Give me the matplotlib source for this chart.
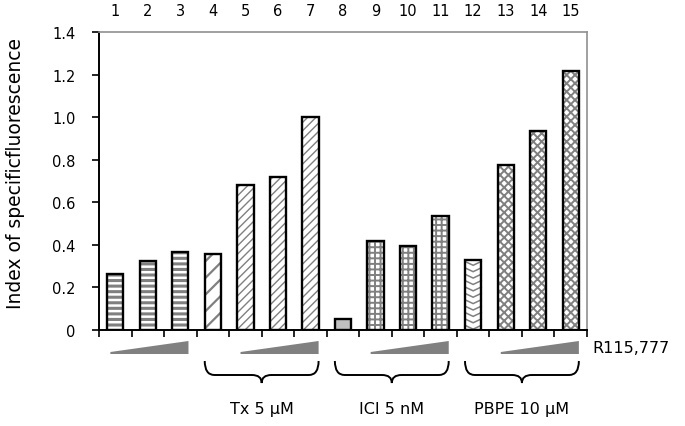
import matplotlib
matplotlib.use("Agg")
import matplotlib.pyplot as plt
from matplotlib.path import Path
from matplotlib.patches import PathPatch, Polygon
import matplotlib.transforms as mtransforms
import numpy as np

plt.rcParams['font.family'] = ['DejaVu Sans']

# ---- data ----
lane_labels = [str(i) for i in range(1, 16)]
values = [0.263, 0.324, 0.366, 0.357, 0.681, 0.719, 1.0, 0.052,
          0.418, 0.395, 0.535, 0.329, 0.775, 0.935, 1.217]
hatches = ['---', '---', '---', '//', '////', '////', '////', '',
           '+++', '+++', '+++', 'chev', 'xxxx', 'xxxx', 'xxxx']
face_colors = ['white'] * 7 + ['#c0c0c0'] + ['white'] * 7
ytick_vals = [0, 0.2, 0.4, 0.6, 0.8, 1.0, 1.2, 1.4]
ytick_labels = ['0', '0.2', '0.4', '0.6', '0.8', '1.0', '1.2', '1.4']
ramp_groups = [(1, 3), (5, 7), (9, 11), (13, 15)]
brace_groups = [(4, 7, 'Tx 5 µM'), (8, 11, 'ICI 5 nM'), (12, 15, 'PBPE 10 µM')]
ramp_label = 'R115,777'
ylabel = 'Index of specificfluorescence'

hatch_lw = {'---': 2.2, '//': 1.6, '////': 1.0, '+++': 1.4, 'xxxx': 1.4}

fig = plt.figure(figsize=(6.85, 4.27), dpi=100)
ax = fig.add_axes([99/685, 1-331/427, 488/685, 298/427])

n = len(values)
x = np.arange(n) + 0.5
bw = 0.5
hatch_col = '#808080'

for xi, v, h, fc in zip(x, values, hatches, face_colors):
    if h and h != 'chev':
        with plt.rc_context({'hatch.linewidth': hatch_lw[h]}):
            b = ax.bar(xi, v, width=bw, color=fc, hatch=h, edgecolor=hatch_col, linewidth=0, zorder=2)
            p = b.patches[0]
            if hasattr(p, 'set_hatch_linewidth'):
                p.set_hatch_linewidth(hatch_lw[h])
    else:
        ax.bar(xi, v, width=bw, color=fc, linewidth=0, zorder=2)
        if h == 'chev':
            step = 0.03
            d = 0.018
            yy = 0.004
            while yy + d < v - 0.003:
                ax.plot([xi - bw/2, xi, xi + bw/2], [yy + d, yy, yy + d],
                        color=hatch_col, lw=1.1, zorder=3, solid_joinstyle='miter')
                yy += step
    ax.bar(xi, v, width=bw, fill=False, edgecolor='black', linewidth=1.7, zorder=4)

ax.set_xlim(0, n)
ax.set_ylim(0, 1.4)
ax.set_yticks(ytick_vals)
ax.set_yticklabels(ytick_labels, fontsize=10.5)
ax.set_xticks(np.arange(n + 1))
ax.set_xticklabels([])
ax.tick_params(axis='both', direction='out', length=5, width=1.2, color='black')
ax.tick_params(axis='y', pad=12)
for s in ['left', 'bottom']:
    ax.spines[s].set_color('black')
    ax.spines[s].set_linewidth(1.4)
for s in ['top', 'right']:
    ax.spines[s].set_color('#909090')
    ax.spines[s].set_linewidth(1.2)
ax.set_ylabel(ylabel, fontsize=13.5)
ax.yaxis.set_label_coords(-0.152, 0.53)

trans = mtransforms.blended_transform_factory(ax.transData, ax.transAxes)

def ay(py):
    return (331 - py) / 298.0

for xi, lab in zip(x, lane_labels):
    ax.text(xi, ay(12), lab, transform=trans, ha='center', va='center', fontsize=10.5, clip_on=False)

# ramps
for a, b in ramp_groups:
    x0 = x[a-1] - bw/2 + 0.1
    x1 = x[b-1] + bw/2
    poly = Polygon([[x0, ay(355)], [x1, ay(355)], [x1, ay(342)], [x0, ay(353)]],
                   closed=True, transform=trans, facecolor='#808080', edgecolor='none', clip_on=False)
    ax.add_patch(poly)

ax.text(x[-1] + bw/2 + 0.4, ay(349), ramp_label, transform=trans, ha='left', va='center',
        fontsize=11.5, clip_on=False)

# braces
for a, b, lab in brace_groups:
    x0 = x[a-1] - bw/2
    x1 = x[b-1] + bw/2
    xc = (x0 + x1) / 2
    top, mid, bot = ay(362), ay(376), ay(384)
    r = 0.3
    verts = [(x0, top), (x0, mid), (x0 + r, mid),
             (xc - r, mid), (xc, mid), (xc, bot),
             (xc, mid), (xc + r, mid),
             (x1 - r, mid), (x1, mid), (x1, top)]
    codes = [Path.MOVETO, Path.CURVE3, Path.CURVE3,
             Path.LINETO, Path.CURVE3, Path.CURVE3,
             Path.CURVE3, Path.CURVE3,
             Path.LINETO, Path.CURVE3, Path.CURVE3]
    ax.add_patch(PathPatch(Path(verts, codes), transform=trans, fill=False,
                           edgecolor='black', lw=1.4, clip_on=False))
    ax.text(xc, ay(410), lab, transform=trans, ha='center', va='center', fontsize=11.5, clip_on=False)

fig.savefig('out.png', dpi=100)
